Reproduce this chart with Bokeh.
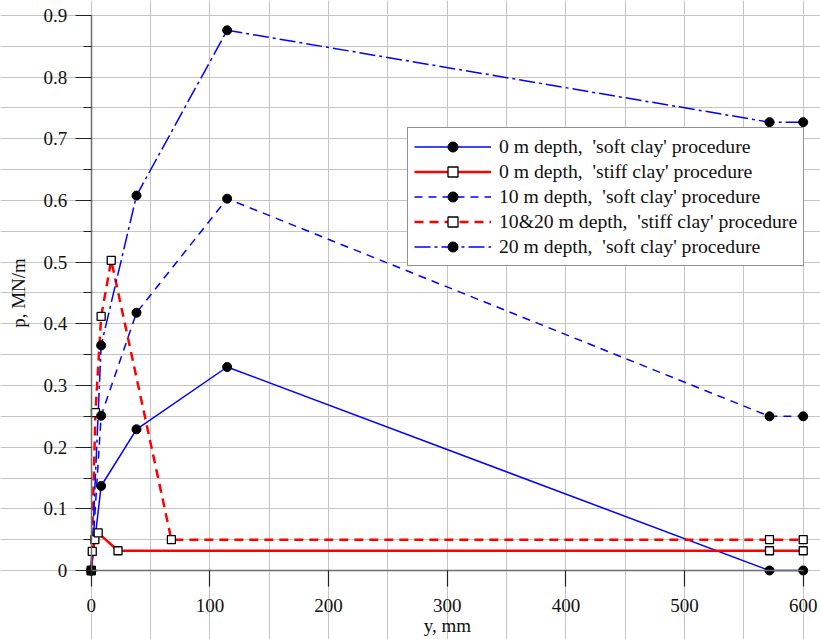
from bokeh.plotting import figure
from bokeh.models import Range1d, LinearAxis, FixedTicker, Grid, Legend, LegendItem
from bokeh.embed import file_html
from bokeh.resources import INLINE

# ---- data ----
y_soft = [0, 8.3, 38.1, 114.5, 571.6, 600]
p_soft_0 = [0, 0.137, 0.229, 0.330, 0.0, 0.0]
p_soft_10 = [0, 0.251, 0.418, 0.603, 0.250, 0.250]
p_soft_20 = [0, 0.365, 0.608, 0.876, 0.727, 0.727]

y_stiff_0 = [0, 0.8, 3.0, 5.8, 22.5, 571.6, 600]
p_stiff_0 = [0, 0.031, 0.050, 0.061, 0.032, 0.032, 0.032]

y_stiff_1020 = [0, 3.5, 8.3, 16.8, 67.5, 571.6, 600]
p_stiff_1020 = [0, 0.256, 0.412, 0.503, 0.050, 0.050, 0.050]

labels = [
    "0 m depth,  'soft clay' procedure",
    "0 m depth,  'stiff clay' procedure",
    "10 m depth,  'soft clay' procedure",
    "10&20 m depth,  'stiff clay' procedure",
    "20 m depth,  'soft clay' procedure",
]

x_ticks = [0, 100, 200, 300, 400, 500, 600]
x_tick_labels = ["0", "100", "200", "300", "400", "500", "600"]
y_ticks = [0, 0.1, 0.2, 0.3, 0.4, 0.5, 0.6, 0.7, 0.8, 0.9]
y_tick_labels = ["0", "0.1", "0.2", "0.3", "0.4", "0.5", "0.6", "0.7", "0.8", "0.9"]
y_minor_ticks = [0.05, 0.15, 0.25, 0.35, 0.45, 0.55, 0.65, 0.75, 0.85]
x_grid_lines = [0, 50, 100, 150, 200, 250, 300, 350, 400, 450, 500, 550, 600]
y_grid_lines = [0, 0.05, 0.1, 0.15, 0.2, 0.25, 0.3, 0.35, 0.4, 0.45, 0.5,
                0.55, 0.6, 0.65, 0.7, 0.75, 0.8, 0.85, 0.9]

FONT = "Liberation Serif"
FS = "19px"

p = figure(width=820, height=639, output_backend="svg", toolbar_location=None,
           x_range=Range1d(-76.53, 614.58), y_range=Range1d(-0.11189, 0.92432),
           x_axis_type=None, y_axis_type=None,
           min_border=0, min_border_top=0, min_border_right=0, min_border_left=0,
           min_border_bottom=0,
           outline_line_color=None, background_fill_color="white",
           border_fill_color="white")

# grids
xg = Grid(dimension=0, ticker=FixedTicker(ticks=x_grid_lines), bounds=(0, 600),
          grid_line_color="#c4c4c4", grid_line_width=1)
yg = Grid(dimension=1, ticker=FixedTicker(ticks=y_grid_lines), bounds=(0, 0.9),
          grid_line_color="#c4c4c4", grid_line_width=1)
p.add_layout(xg)
p.add_layout(yg)

# axes
xaxis = LinearAxis(fixed_location=0, ticker=FixedTicker(ticks=x_ticks), bounds=(0, 600),
                   axis_label="y, mm",
                   major_label_overrides={t: s for t, s in zip(x_ticks, x_tick_labels)})
yaxis = LinearAxis(fixed_location=0,
                   ticker=FixedTicker(ticks=y_ticks, minor_ticks=y_minor_ticks),
                   bounds=(0, 0.9), axis_label="p, MN/m",
                   major_label_overrides={t: s for t, s in zip(y_ticks, y_tick_labels)})
for ax in (xaxis, yaxis):
    ax.axis_line_color = "#6e6e6e"
    ax.axis_line_width = 1.5
    ax.major_tick_line_color = "#222222"
    ax.major_tick_line_width = 1.2
    ax.minor_tick_line_color = "#222222"
    ax.minor_tick_line_width = 1.2
    ax.major_tick_out = 16
    ax.major_tick_in = 0
    ax.minor_tick_out = 8
    ax.minor_tick_in = 0
    ax.major_label_text_font = FONT
    ax.major_label_text_font_size = FS
    ax.major_label_text_color = "#111111"
    ax.axis_label_text_font = FONT
    ax.axis_label_text_font_size = FS
    ax.axis_label_text_font_style = "normal"
    ax.axis_label_text_color = "#111111"
xaxis.major_label_standoff = 12
xaxis.axis_label_standoff = 0
yaxis.major_label_standoff = 8
yaxis.axis_label_standoff = 12
p.add_layout(xaxis, "below")
p.add_layout(yaxis, "left")

BLUE = "#0000ff"
RED = "#ff0000"

l1 = p.line(y_soft, p_soft_0, line_color=BLUE, line_width=1.5)
l2 = p.line(y_stiff_0, p_stiff_0, line_color=RED, line_width=2.5)
l3 = p.line(y_soft, p_soft_10, line_color=BLUE, line_width=1.5, line_dash="8 6")
l4 = p.line(y_stiff_1020, p_stiff_1020, line_color=RED, line_width=2.5, line_dash="9 6")
l5 = p.line(y_soft, p_soft_20, line_color=BLUE, line_width=1.5, line_dash="16 4 3 4")

m2 = p.scatter(y_stiff_0, p_stiff_0, marker="square", size=8, fill_color="white",
               line_color="black", line_width=1.3)
m4 = p.scatter(y_stiff_1020, p_stiff_1020, marker="square", size=8, fill_color="white",
               line_color="black", line_width=1.3)
m1 = p.scatter(y_soft, p_soft_0, marker="circle", size=9, fill_color="black", line_color="black")
m3 = p.scatter(y_soft, p_soft_10, marker="circle", size=9, fill_color="black", line_color="black")
m5 = p.scatter(y_soft, p_soft_20, marker="circle", size=9, fill_color="black", line_color="black")

legend = Legend(items=[
    LegendItem(label=labels[0], renderers=[l1, m1]),
    LegendItem(label=labels[1], renderers=[l2, m2]),
    LegendItem(label=labels[2], renderers=[l3, m3]),
    LegendItem(label=labels[3], renderers=[l4, m4]),
    LegendItem(label=labels[4], renderers=[l5, m5]),
], location=(407, 373))
legend.label_text_font = FONT
legend.label_text_font_size = "19.7px"
legend.label_text_color = "#111111"
legend.glyph_width = 77
legend.glyph_height = 25
legend.label_height = 25
legend.label_standoff = 8
legend.spacing = 0
legend.padding = 6
legend.margin = 0
legend.border_line_color = "#222222"
legend.border_line_width = 1
legend.background_fill_color = "white"
legend.background_fill_alpha = 1.0
p.add_layout(legend)

open("out.html", "w").write(file_html(p, INLINE))
